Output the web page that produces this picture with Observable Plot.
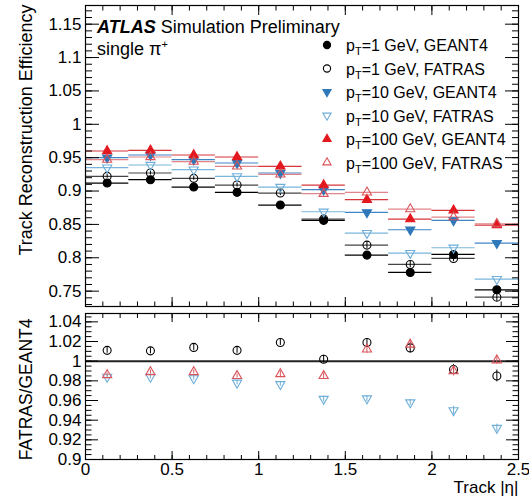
<!DOCTYPE html>
<html><head><meta charset="utf-8">
<script src="https://cdn.jsdelivr.net/npm/d3@7"></script>
<script src="https://cdn.jsdelivr.net/npm/@observablehq/plot@0.6"></script>
<style>
body{margin:0;background:#fff;}
#wrap{position:relative;width:529px;height:497px;overflow:hidden;background:#fff;}
#top,#bot,#over{position:absolute;left:0;}
#top{top:0}
#bot{top:306px}
#over{top:0;pointer-events:none}
</style></head><body>
<div id="wrap"><div id="top"></div><div id="bot"></div><svg id="over" width="529" height="497"></svg></div>
<script>
// ---- data ----
const eta = [0.125,0.375,0.625,0.875,1.125,1.375,1.625,1.875,2.125,2.375];
const binHalfWidth = 0.125;

const effG4_1    = [0.912,0.917,0.906,0.898,0.879,0.856,0.804,0.778,0.805,0.752];
const effFat_1   = [0.922,0.927,0.919,0.909,0.897,0.858,0.819,0.790,0.799,0.741];
const effG4_10   = [0.950,0.954,0.947,0.942,0.927,0.902,0.868,0.842,0.856,0.822];
const effFat_10  = [0.935,0.939,0.932,0.922,0.906,0.869,0.837,0.807,0.815,0.768];
const effG4_100  = [0.960,0.961,0.954,0.951,0.937,0.909,0.887,0.858,0.871,0.849];
const effFat_100 = [0.947,0.951,0.944,0.937,0.925,0.896,0.898,0.873,0.861,0.851];
const errFat_1   = [0.003,0.003,0.003,0.003,0.004,0.004,0.005,0.005,0.005,0.006];

const ratio_1    = [1.011,1.0105,1.014,1.011,1.019,1.002,1.019,1.0135,0.9915,0.985];
const ratio_10   = [0.984,0.984,0.9825,0.978,0.9765,0.9615,0.962,0.958,0.950,0.932];
const ratio_100  = [0.986,0.989,0.989,0.985,0.987,0.985,1.012,1.017,0.990,1.001];
const errRatio_1   = [0.003,0.003,0.003,0.003,0.003,0.004,0.004,0.005,0.005,0.006];
const errRatio_10  = [0.002,0.002,0.002,0.002,0.002,0.003,0.003,0.003,0.004,0.004];
const errRatio_100 = [0.002,0.002,0.002,0.002,0.003,0.003,0.004,0.005,0.005,0.004];
const ratioReference = [1];

const xTicks = [0,0.5,1,1.5,2,2.5];
const yTicksTop = [0.75,0.8,0.85,0.9,0.95,1,1.05,1.1,1.15];
const yTicksBot = [0.9,0.92,0.94,0.96,0.98,1,1.02,1.04];
const legendLabels = [
  ["1 GeV","GEANT4"],["1 GeV","FATRAS"],["10 GeV","GEANT4"],
  ["10 GeV","FATRAS"],["100 GeV","GEANT4"],["100 GeV","FATRAS"]];
const yLabelTop = "Track Reconstruction Efficiency";
const yLabelBot = "FATRAS/GEANT4";
const xLabel = "Track |η|";

// ---- styles ----
const FONT = '"Liberation Sans", Arial, Helvetica, sans-serif';
const styles = [
  {symbol:"circle",   fill:"#000",    stroke:"#000",    line:"#000",    rotate:0,   r:4.0},
  {symbol:"circle",   fill:"none",    stroke:"#000",    line:"#444",    rotate:0,   r:4.0},
  {symbol:"triangle", fill:"#2f78b9", stroke:"#2f78b9", line:"#3f86c6", rotate:180, r:3.4},
  {symbol:"triangle", fill:"none",    stroke:"#6eaed8", line:"#7ab6dc", rotate:180, r:3.4},
  {symbol:"triangle", fill:"#e3181f", stroke:"#e3181f", line:"#d6353b", rotate:0,   r:3.4},
  {symbol:"triangle", fill:"none",    stroke:"#d9545b", line:"#e3848a", rotate:0,   r:3.4}
];
const effSeries = [effG4_1, effFat_1, effG4_10, effFat_10, effG4_100, effFat_100];
const fmt = d => String(+d.toFixed(3));

function tickMarks(A, anchor, major, minor, majLen, minLen) {
  return [
    A(major, {anchor, tickSize: -majLen, tickFormat: () => "", label: null}),
    A(minor, {anchor, tickSize: -minLen, tickFormat: () => "", label: null})
  ];
}

// ---- top panel ----
const xMinor = d3.range(0, 26).map(v => v / 10);
const yMinorTop = d3.range(73, 118).map(v => v / 100);
const topLines = [], topDots = [];
effSeries.forEach((vals, k) => {
  const s = styles[k];
  const rows = eta.map((x, i) => ({x, y: vals[i], x1: x - binHalfWidth, x2: x + binHalfWidth}));
  topLines.push(Plot.ruleY(rows, {y: "y", x1: "x1", x2: "x2", stroke: s.line, strokeWidth: 1.2}));
  if (k === 1) topLines.push(Plot.ruleX(rows, {x: "x", y1: (d, i) => d.y - errFat_1[i], y2: (d, i) => d.y + errFat_1[i], stroke: s.stroke, strokeWidth: 1}));
  topDots.push(Plot.dot(rows, {x: "x", y: "y", symbol: s.symbol, r: s.r, fill: s.fill, stroke: s.stroke, strokeWidth: 1.1, rotate: s.rotate}));
});

const topPlot = Plot.plot({
  width: 529, height: 310, marginLeft: 85, marginRight: 11, marginTop: 5, marginBottom: 4,
  x: {domain: [0, 2.5], label: null},
  y: {domain: [0.727, 1.178], label: null},
  style: {fontFamily: FONT, fontSize: "17px", color: "#000", background: "transparent", overflow: "visible"},
  marks: [
    ...topLines, ...topDots,
    Plot.axisY(yTicksTop, {anchor: "left", tickSize: 0, tickPadding: 4, tickFormat: fmt, fontSize: 17, label: null}),
    ...tickMarks(Plot.axisY, "left", yTicksTop, yMinorTop, 14, 7),
    ...tickMarks(Plot.axisY, "right", yTicksTop, yMinorTop, 14, 7),
    ...tickMarks(Plot.axisX, "bottom", xTicks, xMinor, 9, 4.5),
    ...tickMarks(Plot.axisX, "top", xTicks, xMinor, 9, 4.5),
    Plot.text([yLabelTop], {text: d => d, frameAnchor: "top-left", rotate: -90, textAnchor: "end", dx: -66, dy: -1, fontSize: 18}),
    Plot.frame({stroke: "#000", strokeWidth: 1.2})
  ]
});
document.getElementById("top").appendChild(topPlot);

// ---- ratio panel ----
const yMinorBot = d3.range(180, 210).map(v => v / 200);
const ratioSeries = [[ratio_1, errRatio_1, styles[1]], [ratio_10, errRatio_10, styles[3]], [ratio_100, errRatio_100, styles[5]]];
const botMarks = [];
ratioSeries.forEach(([vals, errs, s]) => {
  const rows = eta.map((x, i) => ({x, y: vals[i], e: errs[i]}));
  botMarks.push(Plot.ruleX(rows, {x: "x", y1: d => d.y - d.e, y2: d => d.y + d.e, stroke: s.stroke, strokeWidth: 1}));
  botMarks.push(Plot.dot(rows, {x: "x", y: "y", symbol: s.symbol, r: s.r, fill: "none", stroke: s.stroke, strokeWidth: 1.1, rotate: s.rotate}));
});

const botPlot = Plot.plot({
  width: 529, height: 191, marginLeft: 85, marginRight: 11, marginTop: 7, marginBottom: 38,
  x: {domain: [0, 2.5], label: null},
  y: {domain: [0.9, 1.0485], label: null},
  style: {fontFamily: FONT, fontSize: "17px", color: "#000", background: "transparent", overflow: "visible"},
  marks: [
    Plot.ruleY(ratioReference, {stroke: "#222", strokeWidth: 2}),
    ...botMarks,
    Plot.axisY(yTicksBot, {anchor: "left", tickSize: 0, tickPadding: 4, tickFormat: fmt, fontSize: 17, label: null}),
    Plot.axisX(xTicks, {anchor: "bottom", tickSize: 0, tickPadding: 3, tickFormat: fmt, fontSize: 17, label: null}),
    ...tickMarks(Plot.axisY, "left", yTicksBot, yMinorBot, 13, 6.5),
    ...tickMarks(Plot.axisY, "right", yTicksBot, yMinorBot, 13, 6.5),
    ...tickMarks(Plot.axisX, "bottom", xTicks, xMinor, 8, 4),
    ...tickMarks(Plot.axisX, "top", xTicks, xMinor, 8, 4),
    Plot.text([yLabelBot], {text: d => d, frameAnchor: "top-left", rotate: -90, textAnchor: "end", dx: -66, dy: 5, fontSize: 17.5}),
    Plot.text([xLabel], {text: d => d, frameAnchor: "bottom-right", textAnchor: "end", lineAnchor: "bottom", dy: 33, fontSize: 17}),
    Plot.frame({stroke: "#000", strokeWidth: 1.2})
  ]
});
document.getElementById("bot").appendChild(botPlot);

// ---- title and legend overlay ----
const over = d3.select("#over").style("font-family", FONT);
const t1 = over.append("text").attr("x", 97).attr("y", 33).attr("font-size", 18);
t1.append("tspan").attr("font-weight", "bold").attr("font-style", "italic").text("ATLAS");
t1.append("tspan").text(" Simulation Preliminary");
const t2 = over.append("text").attr("x", 97).attr("y", 55).attr("font-size", 18);
t2.append("tspan").text("single π");
t2.append("tspan").attr("font-size", 11).attr("dy", -7).text("+");

const rowY = [45, 68.5, 92, 115.5, 139, 162.5];
const symMap = {circle: d3.symbolCircle, triangle: d3.symbolTriangle};
legendLabels.forEach(([pt, sim], i) => {
  const s = styles[i];
  const rr = s.r * 0.9;
  over.append("path")
    .attr("d", d3.symbol(symMap[s.symbol], Math.PI * rr * rr)())
    .attr("transform", `translate(327,${rowY[i]}) rotate(${s.rotate})`)
    .attr("fill", s.fill).attr("stroke", s.stroke).attr("stroke-width", 1.1);
  const t = over.append("text").attr("x", 346).attr("y", rowY[i] + 6).attr("font-size", 16);
  t.append("tspan").text("p");
  t.append("tspan").attr("font-size", 11).attr("dy", 4).text("T");
  t.append("tspan").attr("dy", -4).text(`=${pt}, ${sim}`);
});
</script>
</body></html>
